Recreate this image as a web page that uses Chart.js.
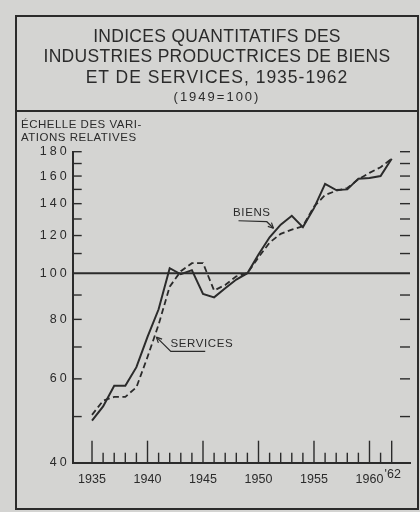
<!DOCTYPE html>
<html lang="fr">
<head>
<meta charset="utf-8">
<title>Indices quantitatifs des industries productrices de biens et de services</title>
<script src="https://cdn.jsdelivr.net/npm/chart.js@4.4.1/dist/chart.umd.min.js"></script>
<style>
  html, body { margin: 0; padding: 0; background: #d4d4d2; }
  #page { position: relative; width: 420px; height: 512px; overflow: hidden;
          font-family: "Liberation Sans", Arial, sans-serif; color: #2b2b2b; }
  #page canvas { position: absolute; left: 0; top: 0; }
  .cadre { position: absolute; left: 15px; top: 15px; width: 404px; height: 495px;
           border: 2px solid #2b2b2b; box-sizing: border-box; }
  .sep { position: absolute; left: 15px; top: 110px; width: 404px; height: 2px; background: #2b2b2b; }
  .titre { position: absolute; left: 15px; width: 404px; text-align: center; white-space: nowrap; }
  .t1 { top: 26px; font-size: 17.5px; line-height: 20px; letter-spacing: 0.3px; }
  .t2 { top: 46px; font-size: 17.5px; line-height: 20px; letter-spacing: 0.3px; }
  .t3 { top: 67px; font-size: 17.5px; line-height: 20px; letter-spacing: 1px; }
  .t4 { top: 89px; font-size: 13px; line-height: 16px; letter-spacing: 2px; }
  .echelle { position: absolute; left: 21px; font-size: 11.5px; line-height: 14px;
             letter-spacing: 0.5px; white-space: nowrap; }
</style>
</head>
<body>
<div id="page">
  <canvas id="graphique" width="420" height="512"></canvas>
  <div class="cadre"></div>
  <div class="sep"></div>
  <div class="titre t1">INDICES QUANTITATIFS DES</div>
  <div class="titre t2">INDUSTRIES PRODUCTRICES DE BIENS</div>
  <div class="titre t3">ET DE SERVICES, 1935-1962</div>
  <div class="titre t4">(1949=100)</div>
  <div class="echelle" style="top:117px">ÉCHELLE DES VARI-</div>
  <div class="echelle" style="top:130px">ATIONS RELATIVES</div>
</div>
<script>
const annees = [1935, 1936, 1937, 1938, 1939, 1940, 1941, 1942, 1943, 1944,
                1945, 1946, 1947, 1948, 1949, 1950, 1951, 1952, 1953, 1954,
                1955, 1956, 1957, 1958, 1959, 1960, 1961, 1962];
const biens = [49, 52.5, 58, 58, 63.5, 73.5, 84, 102.5, 99.5, 101.5,
               90.5, 89, 93, 97, 100, 109.5, 119, 126.5, 132, 125,
               137, 154, 149.5, 150, 158, 158.5, 160, 174];
const services = [50.4, 54, 55, 55, 57.6, 66.7, 78, 93.7, 101, 105,
                  105, 92, 94.5, 98.5, 100, 108, 116, 121, 123.5, 125.5,
                  138, 146, 149, 151, 157.5, 162.5, 167, 174];
const valeursY = [40, 60, 80, 100, 120, 140, 160, 180];
const graduationsY = [40, 50, 60, 70, 80, 90, 100, 110, 120, 130, 140, 150, 160, 170, 180];
const anneesEtiquetees = [1935, 1940, 1945, 1950, 1955, 1960];

const encre = '#2b2b2b';
const police = '"Liberation Sans", Arial, sans-serif';

function trait(ctx, x1, y1, x2, y2) {
  ctx.beginPath();
  ctx.moveTo(x1, y1);
  ctx.lineTo(x2, y2);
  ctx.stroke();
}

// petite pointe de fleche au bout d'un trait
function pointe(ctx, x1, y1, x2, y2) {
  const ang = Math.atan2(y2 - y1, x2 - x1);
  [-0.45, 0.45].forEach(d => {
    trait(ctx, x2, y2, x2 - 6 * Math.cos(ang + d), y2 - 6 * Math.sin(ang + d));
  });
}

const habillage = {
  id: 'habillage',
  beforeDatasetsDraw(chart) {
    const { ctx, chartArea: a, scales: { x, y } } = chart;
    ctx.save();
    ctx.strokeStyle = encre;
    ctx.lineWidth = 1.4;
    graduationsY.forEach(v => {
      if (v === 40 || v === 100) return;
      const py = y.getPixelForValue(v);
      trait(ctx, a.left, py, a.left + 9, py);
      trait(ctx, a.right - 10, py, a.right, py);
    });
    annees.forEach(an => {
      const px = x.getPixelForValue(an);
      const haut = (an % 5 === 0 || an === annees[annees.length - 1]) ? 22 : 10;
      trait(ctx, px, a.bottom, px, a.bottom - haut);
    });
    ctx.lineWidth = 2.2;
    const p100 = y.getPixelForValue(100);
    trait(ctx, a.left, p100, a.right, p100);

    ctx.fillStyle = encre;
    ctx.font = '12.5px ' + police;
    ctx.textBaseline = 'middle';
    ctx.textAlign = 'right';
    ctx.letterSpacing = '3px';
    valeursY.forEach(v => ctx.fillText(String(v), a.left - 3, y.getPixelForValue(v)));
    ctx.letterSpacing = '0px';
    ctx.textAlign = 'center';
    ctx.fillText("'62", x.getPixelForValue(1962) + 1, a.bottom + 11.5);
    ctx.restore();
  },
  afterDatasetsDraw(chart) {
    const { ctx, scales: { x, y } } = chart;
    ctx.save();
    ctx.fillStyle = encre;
    ctx.strokeStyle = encre;
    ctx.lineWidth = 1.2;
    ctx.font = '11.5px ' + police;
    ctx.letterSpacing = '0.6px';
    ctx.textAlign = 'center';
    ctx.textBaseline = 'middle';

    ctx.fillText('BIENS', x.getPixelForValue(1949.4), y.getPixelForValue(134));
    let p = [[1948.2, 128.9], [1950.75, 128.3], [1951.35, 124.3]]
      .map(([an, v]) => [x.getPixelForValue(an), y.getPixelForValue(v)]);
    ctx.beginPath();
    ctx.moveTo(p[0][0], p[0][1]);
    p.slice(1).forEach(q => ctx.lineTo(q[0], q[1]));
    ctx.stroke();
    pointe(ctx, p[1][0], p[1][1], p[2][0], p[2][1]);

    ctx.fillText('SERVICES', x.getPixelForValue(1944.9), y.getPixelForValue(71.2));
    p = [[1945.2, 68.5], [1942.1, 68.5], [1940.8, 73.4]]
      .map(([an, v]) => [x.getPixelForValue(an), y.getPixelForValue(v)]);
    ctx.beginPath();
    ctx.moveTo(p[0][0], p[0][1]);
    p.slice(1).forEach(q => ctx.lineTo(q[0], q[1]));
    ctx.stroke();
    pointe(ctx, p[1][0], p[1][1], p[2][0], p[2][1]);
    ctx.restore();
  }
};

new Chart(document.getElementById('graphique'), {
  type: 'line',
  data: {
    datasets: [
      {
        label: 'Biens',
        data: annees.map((an, i) => ({ x: an, y: biens[i] })),
        borderColor: encre,
        borderWidth: 2,
        pointRadius: 0,
        tension: 0,
        fill: false
      },
      {
        label: 'Services',
        data: annees.map((an, i) => ({ x: an, y: services[i] })),
        borderColor: encre,
        borderWidth: 1.8,
        borderDash: [6, 3.5],
        pointRadius: 0,
        tension: 0,
        fill: false
      }
    ]
  },
  options: {
    responsive: false,
    animation: false,
    layout: { padding: { top: 151.7, right: 10, left: 0, bottom: 0 } },
    plugins: { legend: { display: false }, tooltip: { enabled: false } },
    scales: {
      x: {
        type: 'linear',
        min: 1933.26,
        max: 1963.65,
        afterBuildTicks: s => { s.ticks = annees.map(v => ({ value: v })); },
        afterFit: s => { s.height = 49.3; },
        grid: { display: false, drawTicks: false },
        border: { display: true, color: encre, width: 2 },
        ticks: {
          autoSkip: false,
          maxRotation: 0,
          padding: 9,
          color: encre,
          font: { family: police, size: 12.5 },
          callback: v => anneesEtiquetees.includes(v) ? String(v) : ''
        }
      },
      y: {
        type: 'logarithmic',
        min: 40,
        max: 180,
        afterBuildTicks: s => { s.ticks = graduationsY.map(v => ({ value: v })); },
        afterFit: s => { s.width = 72.7; },
        grid: { display: false, drawTicks: false },
        border: { display: true, color: encre, width: 2 },
        ticks: { display: false }
      }
    }
  },
  plugins: [habillage]
});
</script>
</body>
</html>
